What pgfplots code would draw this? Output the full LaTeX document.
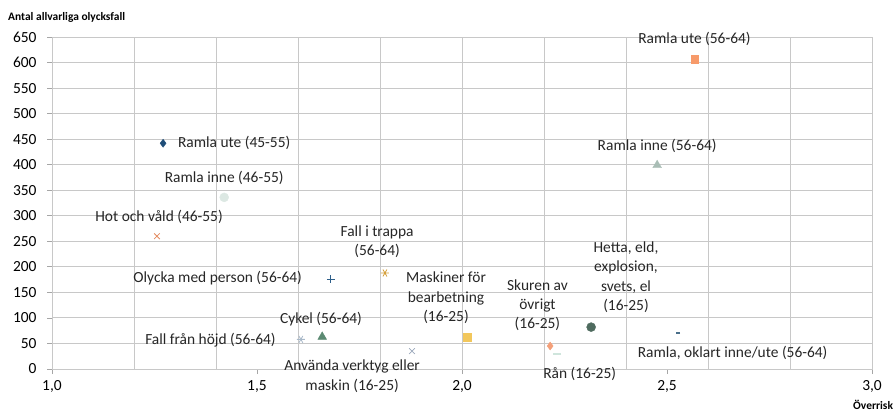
\documentclass[border=0pt]{standalone}
\usepackage{pgfplots}
\pgfplotsset{compat=1.18}
\usepackage{fontspec}
\setmainfont{Carlito}
\definecolor{gridc}{HTML}{C8C8C8}
\definecolor{c1}{HTML}{1F4E79}
\definecolor{c2}{HTML}{DCE8E3}
\definecolor{c3}{HTML}{E38A5E}
\definecolor{c4}{HTML}{D4A03C}
\definecolor{c5}{HTML}{2E5F8A}
\definecolor{c6}{HTML}{F2C75C}
\definecolor{c7}{HTML}{5B8A72}
\definecolor{c8}{HTML}{A9B9C9}
\definecolor{c9}{HTML}{9AA8BC}
\definecolor{c10}{HTML}{F4A07A}
\definecolor{c11}{HTML}{CFE5DC}
\definecolor{c12}{HTML}{4F6B5F}
\definecolor{c13}{HTML}{4A6F8A}
\definecolor{c14}{HTML}{F79A6A}
\definecolor{c15}{HTML}{A9BDB5}
\begin{document}
\begin{tikzpicture}
\path[use as bounding box] (0,0) rectangle (896bp,413bp);
\begin{axis}[
  at={(52bp,44bp)}, anchor=south west,
  scale only axis, width=820bp, height=332bp,
  xmin=1, xmax=3, ymin=0, ymax=650,
  xtick={1,1.5,2,2.5,3},
  minor xtick={1.2,1.4,1.6,1.8,2.0,2.2,2.4,2.6,2.8,3.0},
  ytick={0,50,...,650},
  xminorgrids, ymajorgrids,
  grid style={draw=gridc, line width=0.9pt},
  minor grid style={draw=gridc, line width=0.9pt},
  axis line style={draw=gridc, line width=0.9pt},
  tick style={draw=gray!70, line width=0.8pt},
  major tick length=5bp, minor tick length=0pt,
  tick align=outside, tick pos=left,
  clip=false,
  font=\fontsize{15.5}{19}\selectfont,
  /pgf/number format/assume math mode=true,
  xticklabel style={/pgf/number format/.cd, fixed, fixed zerofill, precision=1, use comma, /tikz/.cd, yshift=-3bp},
  yticklabel style={/pgf/number format/.cd, fixed, /tikz/.cd, xshift=-7bp},
  label style={font=\fontsize{11.5}{13}\selectfont\bfseries},
]
\addplot[only marks, mark=diamond*, mark size=4bp, color=c1] coordinates {(1.271,442)};
\addplot[only marks, mark=*, mark size=4.5bp, color=c2] coordinates {(1.420,336)};
\addplot[only marks, mark=x, mark size=4bp, line width=0.8pt, color=c3] coordinates {(1.256,260)};
\addplot[only marks, mark=asterisk, mark size=4bp, line width=0.8pt, color=c4, mark options={rotate=90}] coordinates {(1.812,188)};
\addplot[only marks, mark=+, mark size=4bp, line width=0.8pt, color=c5] coordinates {(1.680,176)};
\addplot[only marks, mark=square*, mark size=3.8bp, color=c6] coordinates {(2.012,62)};
\addplot[only marks, mark=triangle*, mark size=5bp, color=c7] coordinates {(1.659,63)};
\addplot[only marks, mark=asterisk, mark size=4bp, line width=0.8pt, color=c8, mark options={rotate=90}] coordinates {(1.607,58)};
\addplot[only marks, mark=x, mark size=4bp, line width=0.8pt, color=c9] coordinates {(1.878,35)};
\addplot[only marks, mark=diamond*, mark size=4bp, color=c10] coordinates {(2.215,45)};
\addplot[only marks, mark=-, mark size=4bp, line width=2pt, color=c11] coordinates {(2.232,29)};
\addplot[only marks, mark=*, mark size=4.5bp, color=c12] coordinates {(2.315,82)};
\addplot[only marks, mark=-, mark size=2bp, line width=2pt, color=c13] coordinates {(2.527,70)};
\addplot[only marks, mark=square*, mark size=3.8bp, color=c14] coordinates {(2.568,607)};
\addplot[only marks, mark=triangle*, mark size=5bp, color=c15] coordinates {(2.476,399)};

\begin{scope}[every node/.style={font=\fontsize{15.5}{19.5}\selectfont, align=center, inner sep=0pt, text=black!85}]
\node[anchor=west] at (axis cs:1.307,442) {Ramla ute (45-55)};
\node at (axis cs:1.420,374) {Ramla inne (46-55)};
\node[anchor=east] at (axis cs:1.417,297) {Hot och våld (46-55)};
\node at (axis cs:1.793,249) {Fall i trappa\\(56-64)};
\node[anchor=east] at (axis cs:1.610,178) {Olycka med person (56-64)};
\node at (axis cs:1.961,139) {Maskiner för\\bearbetning\\(16-25)};
\node at (axis cs:1.656,98) {Cykel (56-64)};
\node[anchor=east] at (axis cs:1.546,57) {Fall från höjd (56-64)};
\node at (axis cs:1.732,-14) {Använda verktyg eller\\maskin (16-25)};
\node at (axis cs:2.184,125) {Skuren av\\övrigt\\(16-25)};
\node at (axis cs:2.287,-10) {Rån (16-25)};
\node at (axis cs:2.400,180) {Hetta, eld,\\explosion,\\svets, el\\(16-25)};
\node at (axis cs:2.660,31) {Ramla, oklart inne/ute (56-64)};
\node at (axis cs:2.567,646) {Ramla ute (56-64)};
\node at (axis cs:2.476,437) {Ramla inne (56-64)};
\end{scope}
\end{axis}
\node[anchor=west, font=\fontsize{11.5}{13}\selectfont\bfseries, inner sep=0pt] at (8bp,396bp) {Antal allvarliga olycksfall};
\node[anchor=west, font=\fontsize{11.5}{13}\selectfont\bfseries, inner sep=0pt] at (853bp,8bp) {Överrisk};
\end{tikzpicture}
\end{document}
